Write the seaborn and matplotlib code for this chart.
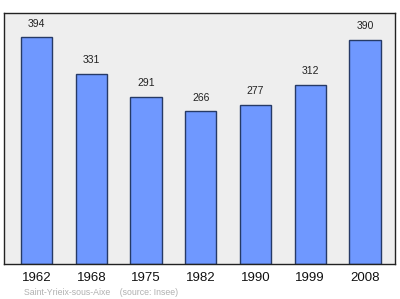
import matplotlib
matplotlib.use("Agg")
import matplotlib.pyplot as plt
import seaborn as sns
import pandas as pd

years = ["1962", "1968", "1975", "1982", "1990", "1999", "2008"]
population = [394, 331, 291, 266, 277, 312, 390]
source_text = "Saint-Yrieix-sous-Aixe    (source: Insee)"

sns.set_theme(style="white")
plt.rcParams['font.family'] = ['Liberation Sans', 'DejaVu Sans']

df = pd.DataFrame({"year": years, "pop": population})

fig = plt.figure(figsize=(4.0, 2.99), dpi=100)
ax = fig.add_axes([0.01, 0.117, 0.9775, 0.839])
ax.set_facecolor("#eeeeee")

sns.barplot(data=df, x="year", y="pop", ax=ax, color="#6f98ff", saturation=1,
            width=0.57, edgecolor="#263a66", linewidth=1.0)

for i, v in enumerate(population):
    ax.annotate(str(v), (i, v), xytext=(0, 6), textcoords="offset points",
                ha="center", va="bottom", fontsize=7.5, color="#222222")

ax.set_xlim(-0.594, 6.548)
ax.set_ylim(0, 436)
ax.set_yticks([])
ax.set_xlabel("")
ax.set_ylabel("")
ax.tick_params(axis="x", length=0, pad=6, labelsize=9.5, colors="#111111")
for s in ax.spines.values():
    s.set_color("#222222")
    s.set_linewidth(1.0)

fig.text(0.06, 0.023, source_text, fontsize=6.3, color="#b0b0b0", ha="left", va="center")

fig.savefig("out.png", dpi=100)
